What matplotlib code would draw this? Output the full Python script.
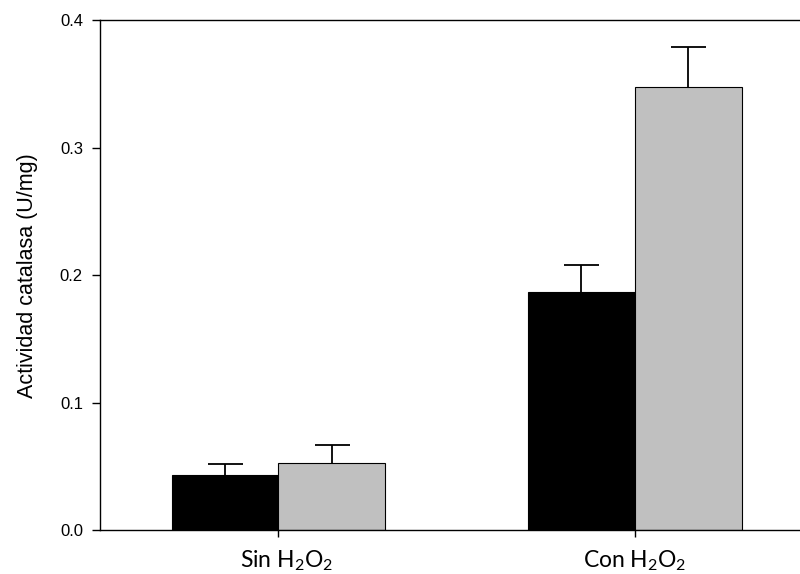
import matplotlib

matplotlib.use("Agg")
import matplotlib.pyplot as plt
import matplotlib.transforms as mtransforms
import numpy as np

# data
groups = ["Sin H$\\mathregular{_2}$O$\\mathregular{_2}$", "Con H$\\mathregular{_2}$O$\\mathregular{_2}$"]
black_values = [0.043, 0.187]
black_errors = [0.009, 0.021]
gray_values = [0.053, 0.348]
gray_errors = [0.014, 0.031]

plt.rcParams["font.family"] = ["Liberation Sans", "DejaVu Sans"]

fig = plt.figure(figsize=(8.0, 5.74), dpi=100)
ax = fig.add_axes([100.3 / 800, 43.7 / 574, 712.6 / 800, 510.0 / 574])

x = np.arange(len(groups))
width = 0.3

err_style = dict(ecolor="black", elinewidth=1.3, capsize=12.6, capthick=1.3)
for offset, values, errors, color in [
    (-width / 2, black_values, black_errors, "black"),
    (width / 2, gray_values, gray_errors, "#c0c0c0"),
]:
    bars = ax.bar(
        x + offset, values, width,
        color=color, edgecolor="black", linewidth=0.8,
        yerr=[np.zeros(len(errors)), errors],
        error_kw=err_style,
    )
    # only the upper cap is drawn in the original
    caplines = bars.errorbar.lines[1]
    caplines[0].set_visible(False)

ax.set_xlim(-0.5, 1.5)
ax.set_ylim(0.0, 0.4)
ax.set_yticks([0.0, 0.1, 0.2, 0.3, 0.4])
ax.set_yticklabels(["0.0", "0.1", "0.2", "0.3", "0.4"], fontsize=12)
ax.set_xticks(x)
ax.set_xticklabels(groups, fontsize=16.5, family=["Lato", "DejaVu Sans"])
ax.tick_params(axis="y", direction="out", length=5.5, width=1.0, pad=7)
ax.tick_params(axis="x", direction="out", length=5, width=1.0, pad=8)

# first label sits a little right of its tick in the original
shift = mtransforms.ScaledTranslation(8 / 100, 0, fig.dpi_scale_trans)
first = ax.get_xticklabels()[0]
first.set_transform(first.get_transform() + shift)

ax.set_ylabel("Actividad catalasa (U/mg)", fontsize=15.5, labelpad=16)

for side in ["left", "bottom", "top"]:
    ax.spines[side].set_linewidth(1.0)
ax.spines["right"].set_visible(False)

fig.savefig("out.png", dpi=100)
plt.close(fig)
